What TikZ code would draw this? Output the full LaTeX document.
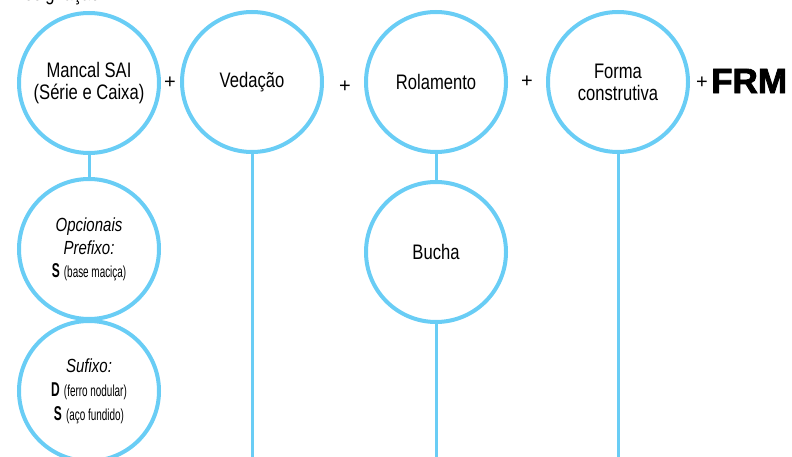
\documentclass[tikz,border=0pt]{standalone}
\usepackage{fontspec}
\setmainfont[FakeStretch=0.79]{Liberation Sans}
\newfontfamily\smallf[FakeStretch=0.62]{Liberation Sans}
\newfontfamily\boldf[FakeStretch=0.6]{Liberation Sans Bold}
\newfontfamily\plainf{Liberation Sans}
\newfontfamily\frmfont[FakeBold=2.5]{Liberation Sans Bold}
\definecolor{ringblue}{RGB}{105,205,245}
\newcommand{\bigcode}[1]{{\boldf\fontsize{20}{20}\selectfont #1}}
\newcommand{\smalltxt}[1]{{\smallf\fontsize{16}{16}\selectfont #1}}
\begin{document}
\begin{tikzpicture}[x=1pt,y=-1pt,
  ring/.style={circle,draw=ringblue,line width=4pt,minimum size=140pt,inner sep=0pt,align=center,font=\fontsize{21}{22}\selectfont},
  link/.style={draw=ringblue,line width=3pt},
  plus/.style={font=\plainf\fontsize{20}{20}\selectfont,inner sep=0pt}]
\useasboundingbox (0,0) rectangle (792,457);
\node[anchor=base west,inner sep=0pt,font=\fontsize{21}{21}\selectfont] (title) at (12,0.5) {Designação};
\node[ring] (mancal) at (89,83) {Mancal SAI\\(Série e Caixa)};
\node[ring] (vedacao) at (252,82) {Vedação};
\node[ring] (rolamento) at (436,82) {Rolamento};
\node[ring] (forma) at (618,82) {Forma\\construtiva};
\node[ring,font=\fontsize{19}{23}\selectfont] (opc) at (89,249) {\itshape Opcionais\\\itshape Prefixo:\\\bigcode{S} \smalltxt{(base maciça)}};
\node[ring,font=\fontsize{19}{24}\selectfont] (suf) at (89,391) {\itshape Sufixo:\\\bigcode{D} \smalltxt{(ferro nodular)}\\\bigcode{S} \smalltxt{(aço fundido)}};
\node[ring] (bucha) at (436,252) {Bucha};
\coordinate (vedEnd) at (252,457);
\coordinate (buchaEnd) at (436,457);
\coordinate (formaEnd) at (618,457);
\draw[link] (mancal.south) -- (opc.north);
\draw[link] (vedacao.south) -- (vedEnd);
\draw[link] (rolamento.south) -- (bucha.north);
\draw[link] (bucha.south) -- (buchaEnd);
\draw[link] (forma.south) -- (formaEnd);
\node[plus] (p1) at (170,83) {+};
\node[plus] (p2) at (345,87) {+};
\node[plus] (p3) at (527,82) {+};
\node[plus] (p4) at (702,83) {+};
\node[anchor=west,inner sep=0pt,font=\frmfont\fontsize{35}{35}\selectfont] (frm) at (711,81) {FRM};
\end{tikzpicture}
\end{document}
